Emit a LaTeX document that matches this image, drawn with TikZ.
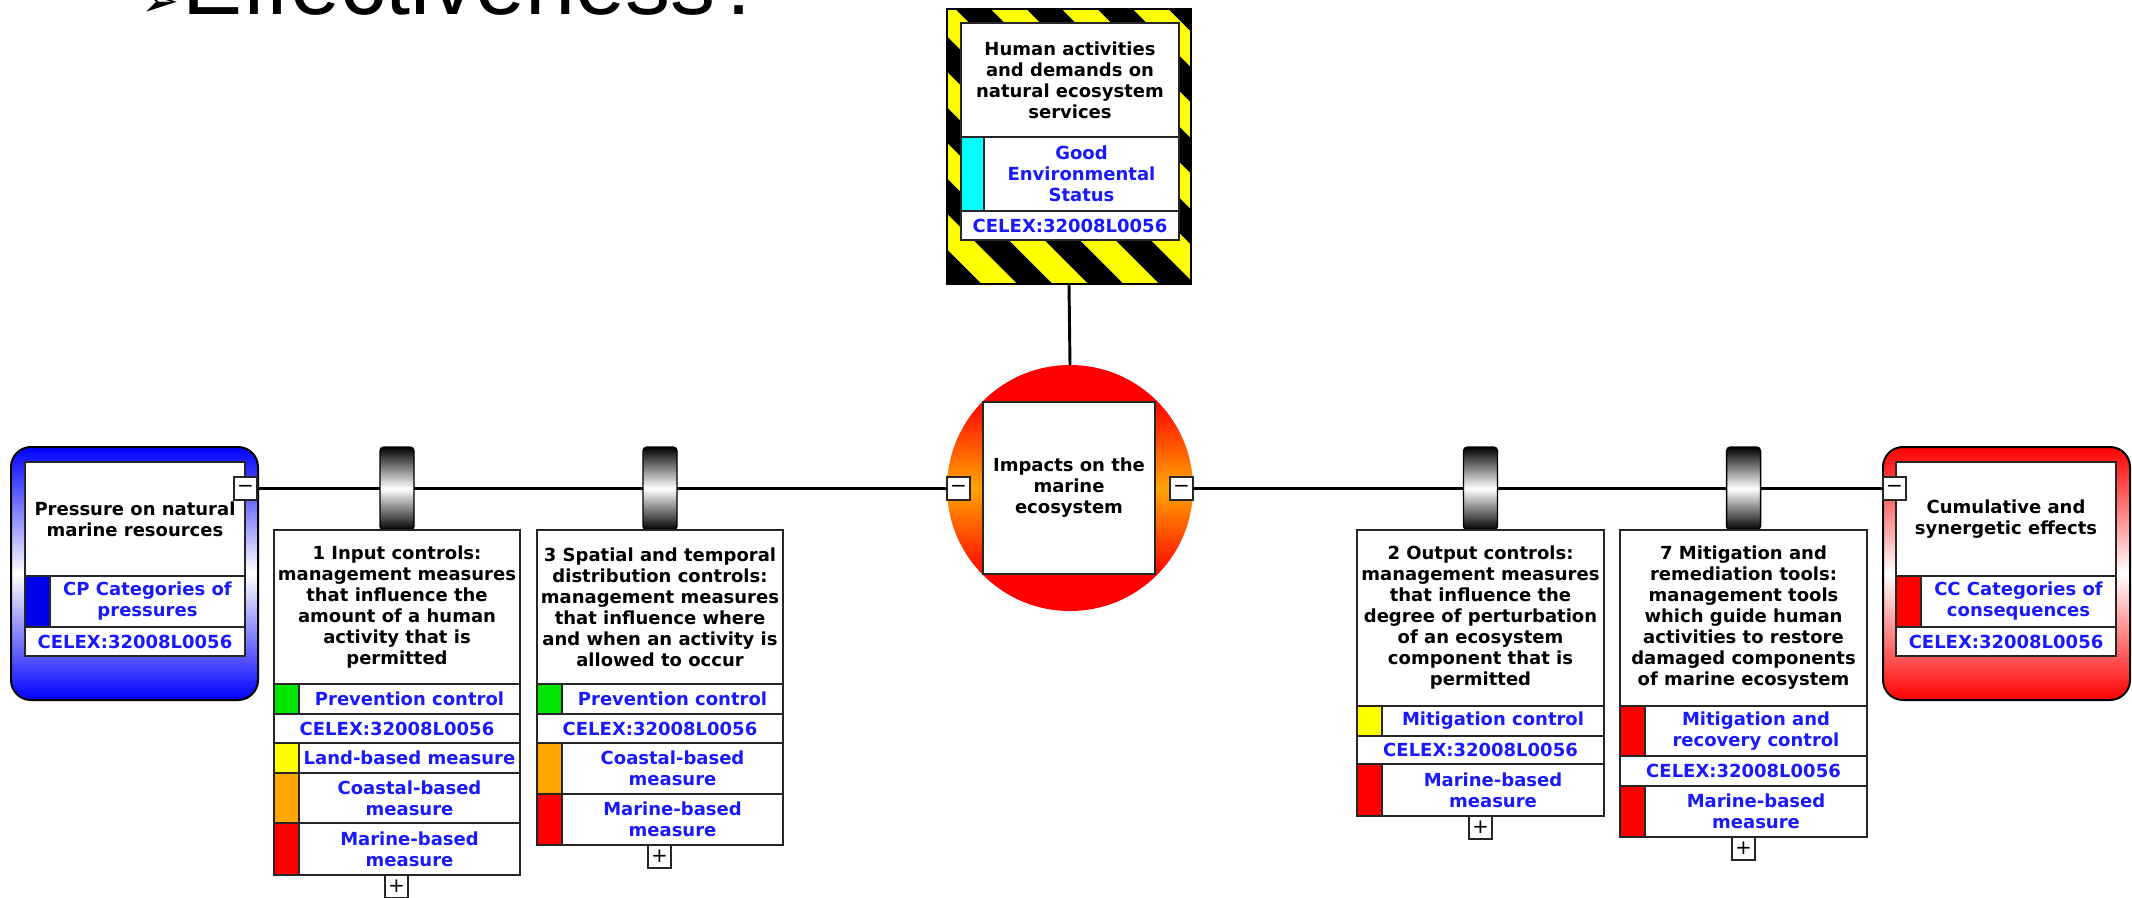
\documentclass[tikz,border=0pt]{standalone}
\usepackage{fontspec}
\setmainfont{DejaVu Sans}
\newfontfamily\arialf{Liberation Sans}
\definecolor{tblue}{RGB}{25,25,250}
\definecolor{cgreen}{RGB}{0,230,0}
\definecolor{cyellow}{RGB}{255,255,0}
\definecolor{corange}{RGB}{255,165,0}
\definecolor{cred}{RGB}{255,0,0}
\definecolor{cblue}{RGB}{0,0,235}
\definecolor{ccyan}{RGB}{0,255,255}
\definecolor{gblue}{RGB}{0,0,255}
\definecolor{hazy}{RGB}{255,255,0}
\pgfdeclareverticalshading{roshade}{100bp}{color(0bp)=(cred); color(25bp)=(cred); color(32bp)=(cred); color(50bp)=(corange); color(68bp)=(cred); color(75bp)=(cred); color(100bp)=(cred)}
\tikzset{
  wh/.style 2 args={minimum width=#1*0.75pt, minimum height=#2*0.75pt},
  cell/.style={draw=black!85, line width=1.1pt, fill=white, inner sep=0pt, outer sep=0pt, anchor=north west},
  ttl/.style={cell, font=\bfseries\fontsize{13.5pt}{15.75pt}\selectfont, text=black, align=center},
  blu/.style={cell, font=\bfseries\fontsize{13.5pt}{15.75pt}\selectfont, text=tblue, align=center},
  colbar/.style={cell, fill=#1},
  cyl/.style={draw=black, line width=1.1pt, rounded corners=3pt, top color=black, bottom color=black, middle color=white, inner sep=0pt, outer sep=0pt, anchor=north, wh={34}{83}},
  tog/.style={draw=black!85, fill=white, line width=1.1pt, inner sep=0pt, outer sep=0pt, anchor=north west, wh={23}{23}, font=\fontsize{15pt}{15pt}\selectfont},
  conn/.style={line width=2.2pt, black},
  outerbox/.style={draw=black, line width=1.5pt, rounded corners=15pt, inner sep=0pt, outer sep=0pt, anchor=north west, wh={247}{253}},
}
\begin{document}
\begin{tikzpicture}[x=0.75pt,y=-0.75pt]
\useasboundingbox (0,0) rectangle (2132,897);
\fill[white] (0,0) rectangle (2132,897);

% heading
\node[anchor=base west, inner sep=0pt, font=\fontsize{34pt}{34pt}\selectfont] (arrowmark) at (141,16) {➢};
\node[anchor=base west, inner sep=0pt, font=\arialf\fontsize{67.5pt}{67.5pt}\selectfont] (heading) at (182,14) {Effectiveness?};

% hazard box
\begin{scope}
  \clip (947,9) rectangle (1191,284);
  \fill[hazy] (947,9) rectangle (1191,284);
  \foreach \k in {-2,...,7}{
    \pgfmathsetmacro\cc{751+71*\k}
    \draw[line width=18.75pt] (\cc-21,-21) -- (\cc+314,314);
  }
\end{scope}
\node[draw=black, line width=1.5pt, inner sep=0pt, outer sep=0pt, anchor=north west, wh={244}{275}] (haz) at (947,9) {};
\node[ttl, wh={218}{114}] (hazt) at (961,23) {Human activities\\and demands on\\natural ecosystem\\services};
\node[colbar=ccyan, wh={23}{74}] (hazca) at (961,137) {};
\node[blu, wh={195}{74}] (hazc) at (984,137) {Good\\Environmental\\Status};
\node[blu, wh={218}{29}] (hazx) at (961,211) {CELEX:32008L0056};

% central event
\node[circle, shading=roshade, draw=none, inner sep=0pt, outer sep=0pt, wh={246}{246}] (imp) at (1070,488) {};
\node[ttl, wh={172}{172}] (impbox) at (983,402) {Impacts on the\\marine\\ecosystem};
\node[tog] (cmL) at (947,477) {−};
\node[tog] (cmR) at (1170,477) {−};

% left threat box
\node[outerbox, top color=gblue, bottom color=gblue, middle color=white] (pres) at (11,447) {};
\node[ttl, wh={220}{114}] (prest) at (25,462) {Pressure on natural\\marine resources};
\node[colbar=cblue, wh={25}{51}] (presba) at (25,576) {};
\node[blu, wh={195}{51}] (presb) at (50,576) {CP Categories of\\pressures};
\node[blu, wh={220}{29}] (presx) at (25,627) {CELEX:32008L0056};
\node[tog] (pm) at (234,477) {−};

% right consequence box
\node[outerbox, top color=cred, bottom color=cred, middle color=white] (cons) at (1883,447) {};
\node[ttl, wh={220}{114}] (const) at (1896,462) {Cumulative and\\synergetic effects};
\node[colbar=cred, wh={25}{51}] (consba) at (1896,576) {};
\node[blu, wh={195}{51}] (consb) at (1921,576) {CC Categories of\\consequences};
\node[blu, wh={220}{29}] (consx) at (1896,627) {CELEX:32008L0056};
\node[tog] (cm) at (1883,477) {−};

% barrier 1
\node[cyl] (c1) at (397,447) {};
\node[ttl, wh={246}{154}] (b1) at (274,530) {1 Input controls:\\management measures\\that influence the\\amount of a human\\activity that is\\permitted};
\node[colbar=cgreen, wh={25}{30}] (b1ga) at (274,684) {};
\node[blu, wh={221}{30}] (b1g) at (299,684) {Prevention control};
\node[blu, wh={246}{29}] (b1c) at (274,714) {CELEX:32008L0056};
\node[colbar=cyellow, wh={25}{30}] (b1ya) at (274,743) {};
\node[blu, wh={221}{30}] (b1y) at (299,743) {Land-based measure};
\node[colbar=corange, wh={25}{50}] (b1oa) at (274,773) {};
\node[blu, wh={221}{50}] (b1o) at (299,773) {Coastal-based\\measure};
\node[colbar=cred, wh={25}{52}] (b1ra) at (274,823) {};
\node[blu, wh={221}{52}] (b1r) at (299,823) {Marine-based\\measure};
\node[tog] (b1p) at (385,875) {+};

% barrier 3
\node[cyl] (c3) at (660,447) {};
\node[ttl, wh={246}{154}] (b3) at (537,530) {3 Spatial and temporal\\distribution controls:\\management measures\\that influence where\\and when an activity is\\allowed to occur};
\node[colbar=cgreen, wh={25}{30}] (b3ga) at (537,684) {};
\node[blu, wh={221}{30}] (b3g) at (562,684) {Prevention control};
\node[blu, wh={246}{29}] (b3c) at (537,714) {CELEX:32008L0056};
\node[colbar=corange, wh={25}{51}] (b3oa) at (537,743) {};
\node[blu, wh={221}{51}] (b3o) at (562,743) {Coastal-based\\measure};
\node[colbar=cred, wh={25}{51}] (b3ra) at (537,794) {};
\node[blu, wh={221}{51}] (b3r) at (562,794) {Marine-based\\measure};
\node[tog] (b3p) at (648,845) {+};

% barrier 2
\node[cyl] (c2) at (1480.5,447) {};
\node[ttl, wh={247}{176}] (b2) at (1357,530) {2 Output controls:\\management measures\\that influence the\\degree of perturbation\\of an ecosystem\\component that is\\permitted};
\node[colbar=cyellow, wh={25}{30}] (b2ya) at (1357,706) {};
\node[blu, wh={222}{30}] (b2y) at (1382,706) {Mitigation control};
\node[blu, wh={247}{28}] (b2c) at (1357,736) {CELEX:32008L0056};
\node[colbar=cred, wh={25}{52}] (b2ra) at (1357,764) {};
\node[blu, wh={222}{52}] (b2r) at (1382,764) {Marine-based\\measure};
\node[tog] (b2p) at (1469,816) {+};

% barrier 7
\node[cyl] (c7) at (1743.5,447) {};
\node[ttl, wh={247}{176}] (b7) at (1620,530) {7 Mitigation and\\remediation tools:\\management tools\\which guide human\\activities to restore\\damaged components\\of marine ecosystem};
\node[colbar=cred, wh={25}{50}] (b7ra) at (1620,706) {};
\node[blu, wh={222}{50}] (b7r) at (1645,706) {Mitigation and\\recovery control};
\node[blu, wh={247}{30}] (b7c) at (1620,756) {CELEX:32008L0056};
\node[colbar=cred, wh={25}{51}] (b7ma) at (1620,786) {};
\node[blu, wh={222}{51}] (b7m) at (1645,786) {Marine-based\\measure};
\node[tog] (b7p) at (1732,837) {+};

% connectors
\draw[conn] (haz.south) -- (imp.north);
\draw[conn] (pm.east) -- (c1.west);
\draw[conn] (c1.east) -- (c3.west);
\draw[conn] (c3.east) -- (cmL.west);
\draw[conn] (cmR.east) -- (c2.west);
\draw[conn] (c2.east) -- (c7.west);
\draw[conn] (c7.east) -- (cm.west);
\end{tikzpicture}
\end{document}
